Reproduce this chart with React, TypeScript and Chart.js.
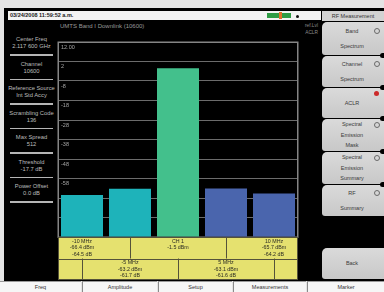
import React, { useEffect, useRef } from "react";
import { Chart, registerables } from "chart.js";

Chart.register(...registerables);

// ---- data ----
const categories = ["-10 MHz", "-5 MHz", "CH 1", "5 MHz", "10 MHz"];
const powerDbm = [-66.4, -63.2, -1.5, -63.1, -65.7];
const relativeDb: (number | null)[] = [-64.5, -61.7, null, -61.6, -64.2];
const yTickValues = [12, 2, -8, -18, -28, -38, -48, -58, -68, -78, -88];
const yTickLabels = ["12.00", "2", "-8", "-18", "-28", "-38", "-48", "-58", "-68", "-78", "-88"];
const yMin = -88;
const yMax = 12;

const leftParamNames = ["Center Freq", "Channel", "Reference Source", "Scrambling Code", "Max Spread", "Threshold", "Power Offset"];
const leftParamValues = ["2.117 600 GHz", "10600", "Int Std Accy", "136", "512", "-17.7 dB", "0.0 dB"];
const softKeyLabels = [["Band", "Spectrum"], ["Channel", "Spectrum"], ["ACLR"], ["Spectral", "Emission", "Mask"], ["Spectral", "Emission", "Summary"], ["RF", "Summary"], ["Back"]];
const bottomKeys = ["Freq", "Amplitude", "Setup", "Measurements", "Marker"];
const titleText = "03/24/2008 11:59:52 a.m.";
const subTitle = "UMTS Band I Downlink (10600)";

// ---- styles / layout ----
const barColors = ["#1eb3ba", "#1eb3ba", "#43c08c", "#4a65ad", "#4a65ad"];
const softKeyBoxes = [
  { top: 22, h: 33, mark: "ring" },
  { top: 56, h: 31, mark: "ring" },
  { top: 88, h: 30, mark: "red" },
  { top: 119, h: 32, mark: "ring" },
  { top: 152, h: 32, mark: "ring" },
  { top: 185, h: 31, mark: "ring" },
  { top: 248, h: 31, mark: "" },
];
const bottomCells = [[0, 81], [82, 157], [158, 232], [233, 306], [307, 384]];
const FONT = "'Liberation Sans', Arial, sans-serif";

const framePlugin = {
  id: "frame",
  beforeDatasetsDraw(chart: any) {
    const { ctx, chartArea: a } = chart;
    ctx.save();
    ctx.strokeStyle = "#858585";
    ctx.lineWidth = 1.5;
    ctx.strokeRect(a.left + 0.25, a.top + 0.25, a.right - a.left - 0.5, a.bottom - a.top);
    ctx.restore();
  },
};

const tablePlugin = {
  id: "aclrTable",
  afterDraw(chart: any) {
    const { ctx, chartArea: a } = chart;
    const xs = chart.scales.x;
    const rowH = 21.5;
    const top1 = a.bottom;
    const top2 = top1 + rowH;
    const end = top2 + rowH;
    ctx.save();
    ctx.fillStyle = "#e5e16f";
    ctx.fillRect(a.left, top1, a.right - a.left, end - top1);
    ctx.strokeStyle = "#55523a";
    ctx.lineWidth = 1;
    const hl = (y: number) => {
      ctx.beginPath();
      ctx.moveTo(a.left, Math.round(y) + 0.5);
      ctx.lineTo(a.right, Math.round(y) + 0.5);
      ctx.stroke();
    };
    const vl = (x: number, y0: number, y1: number) => {
      ctx.beginPath();
      ctx.moveTo(Math.round(x) + 0.5, y0);
      ctx.lineTo(Math.round(x) + 0.5, y1);
      ctx.stroke();
    };
    hl(top1);
    hl(top2);
    hl(end - 1);
    vl(a.left, top1, end);
    vl(a.right - 1, top1, end);
    categories.forEach((_, i) => {
      const cx = xs.getPixelForValue(i);
      // row 1 holds even categories, its dividers sit at odd centres; row 2 the opposite
      if (i % 2 === 1) vl(cx, top1, top2);
      else vl(cx, top2, end);
    });
    ctx.fillStyle = "#2a2a22";
    ctx.font = `5.3px ${FONT}`;
    ctx.textAlign = "center";
    ctx.textBaseline = "middle";
    categories.forEach((name, i) => {
      const cx = xs.getPixelForValue(i);
      const rowTop = i % 2 === 0 ? top1 : top2;
      const lines = [name, `${powerDbm[i].toFixed(1)} dBm`];
      if (relativeDb[i] !== null) lines.push(`${(relativeDb[i] as number).toFixed(1)} dB`);
      lines.forEach((t, k) => ctx.fillText(t, cx, rowTop + 4.2 + k * 6.5));
    });
    ctx.restore();
  },
};

function ChartCanvas() {
  const ref = useRef<HTMLCanvasElement>(null);
  useEffect(() => {
    const chart = new Chart(ref.current as HTMLCanvasElement, {
      type: "bar",
      data: {
        labels: categories,
        datasets: [
          {
            data: powerDbm,
            backgroundColor: barColors,
            base: yMin,
            barPercentage: 0.875,
            categoryPercentage: 1,
            borderWidth: 0,
          } as any,
        ],
      },
      options: {
        animation: false,
        responsive: false,
        maintainAspectRatio: false,
        devicePixelRatio: 1,
        layout: { padding: { left: 1, right: 1, top: 1, bottom: 43 } },
        plugins: { legend: { display: false }, tooltip: { enabled: false } },
        scales: {
          x: { display: false },
          y: {
            min: yMin,
            max: yMax,
            afterFit: (s: any) => {
              s.width = 0;
              s.paddingTop = 0;
              s.paddingBottom = 0;
              s.paddingLeft = 0;
              s.paddingRight = 0;
            },
            border: { display: false },
            grid: { color: "#6c6c6c", drawTicks: false, lineWidth: 1 },
            ticks: {
              stepSize: 10,
              mirror: true,
              padding: 3,
              labelOffset: 5,
              color: "#a6a6a6",
              font: { size: 5.5, family: FONT },
              callback: (v: any) => {
                const idx = yTickValues.indexOf(Number(v));
                return idx >= 0 ? yTickLabels[idx] : "";
              },
            },
          },
        },
      } as any,
      plugins: [framePlugin, tablePlugin],
    });
    return () => chart.destroy();
  }, []);
  return (
    <canvas
      ref={ref}
      width={242}
      height={239}
      style={{ position: "absolute", left: 57, top: 41, width: 242, height: 239 }}
    />
  );
}

export default function App() {
  const abs = (o: any) => ({ position: "absolute" as const, ...o });
  return (
    <div
      style={abs({
        left: 0,
        top: 0,
        width: 384,
        height: 292,
        background: "#e4e4e4",
        overflow: "hidden",
        fontFamily: FONT,
      })}
    >
      {/* black screen */}
      <div style={abs({ left: 4, top: 8, width: 380, height: 273, background: "#000" })} />
      {/* title bar */}
      <div style={abs({ left: 8, top: 11, width: 313, height: 9, background: "#f3f3f3" })} />
      <div
        style={abs({
          left: 10,
          top: 11,
          height: 9,
          lineHeight: "9px",
          fontSize: 5.5,
          fontWeight: "bold",
          color: "#1a1a1a",
          whiteSpace: "nowrap",
        })}
      >
        {titleText}
      </div>
      <div style={abs({ left: 267, top: 13, width: 24, height: 5, background: "#2e9c44" })} />
      <div style={abs({ left: 279, top: 12, width: 3, height: 7, background: "#e0702a" })} />
      <div style={abs({ left: 296, top: 15, width: 3, height: 3, borderRadius: 2, background: "#111" })} />

      {/* subtitle */}
      <div style={abs({ left: 60, top: 22, fontSize: 6, color: "#9a9a9a", whiteSpace: "nowrap", lineHeight: "8px" })}>
        {subTitle}
      </div>
      <div
        style={abs({
          left: 280,
          width: 38,
          top: 22,
          fontSize: 4.8,
          color: "#8c8c8c",
          textAlign: "right",
          lineHeight: "7px",
          whiteSpace: "nowrap",
        })}
      >
        <div>ref.Lvl</div>
        <div>ACLR</div>
      </div>

      {/* left parameter panel */}
      {leftParamNames.map((name, k) => {
        const y = 40 + 24.5 * k;
        return (
          <React.Fragment key={name}>
            <div
              style={abs({
                left: 4,
                width: 55,
                top: y - 4,
                textAlign: "center",
                fontSize: 5.8,
                lineHeight: "7px",
                color: "#bdbdbd",
                whiteSpace: "nowrap",
              })}
            >
              <div>{name}</div>
              <div>{leftParamValues[k]}</div>
            </div>
            <div style={abs({ left: 10, width: 43, top: y + 14, height: 1.5, background: "#b5b5b5" })} />
          </React.Fragment>
        );
      })}

      <ChartCanvas />

      {/* right soft keys */}
      <div
        style={abs({
          left: 322,
          top: 11,
          width: 62,
          height: 10,
          background: "#d2d2d2",
          fontSize: 5.5,
          lineHeight: "10px",
          textAlign: "center",
          color: "#333",
        })}
      >
        RF Measurement
      </div>
      {softKeyBoxes.map((b, i) => {
        const lines = softKeyLabels[i];
        const lh = lines.length === 3 ? 10.5 : 14.5;
        const blockH = lh * lines.length;
        return (
          <div
            key={i}
            style={abs({
              left: 322,
              top: b.top,
              width: 62,
              height: b.h,
              background: "linear-gradient(#dadada, #c8c8c8)",
              borderRadius: "5px 0 0 3px",
            })}
          >
            <div
              style={abs({
                left: 0,
                width: 60,
                top: (b.h - blockH) / 2,
                textAlign: "center",
                fontSize: 5.5,
                lineHeight: `${lh}px`,
                color: "#3a3a3a",
              })}
            >
              {lines.map((t, k) => (
                <div key={k}>{t}</div>
              ))}
            </div>
            {b.mark === "ring" && (
              <div
                style={abs({
                  left: 52,
                  top: (b.h - blockH) / 2 + lh / 2 - 3,
                  width: 4,
                  height: 4,
                  borderRadius: 3,
                  border: "1px solid #6a6a6a",
                })}
              />
            )}
            {b.mark === "red" && (
              <div style={abs({ left: 52, top: 3, width: 5, height: 5, borderRadius: 3, background: "#cc2a2a" })} />
            )}
          </div>
        );
      })}
      {[55, 87, 118, 151, 184].map((y) => (
        <div key={y} style={abs({ left: 380, top: y - 2.5, width: 6, height: 5, borderRadius: 3, background: "#000" })} />
      ))}

      {/* bottom keys */}
      {bottomKeys.map((t, i) => {
        const [x0, x1] = bottomCells[i];
        return (
          <div
            key={t}
            style={abs({
              left: x0,
              top: 281,
              width: x1 - x0,
              height: 11,
              background: "#f6f6f6",
              borderLeft: i > 0 ? "1px solid #8a8a8a" : "none",
              borderTop: "1px solid #9a9a9a",
              boxSizing: "border-box",
              textAlign: "center",
              fontSize: 5.5,
              lineHeight: "10px",
              color: "#333",
            })}
          >
            {t}
          </div>
        );
      })}
    </div>
  );
}
